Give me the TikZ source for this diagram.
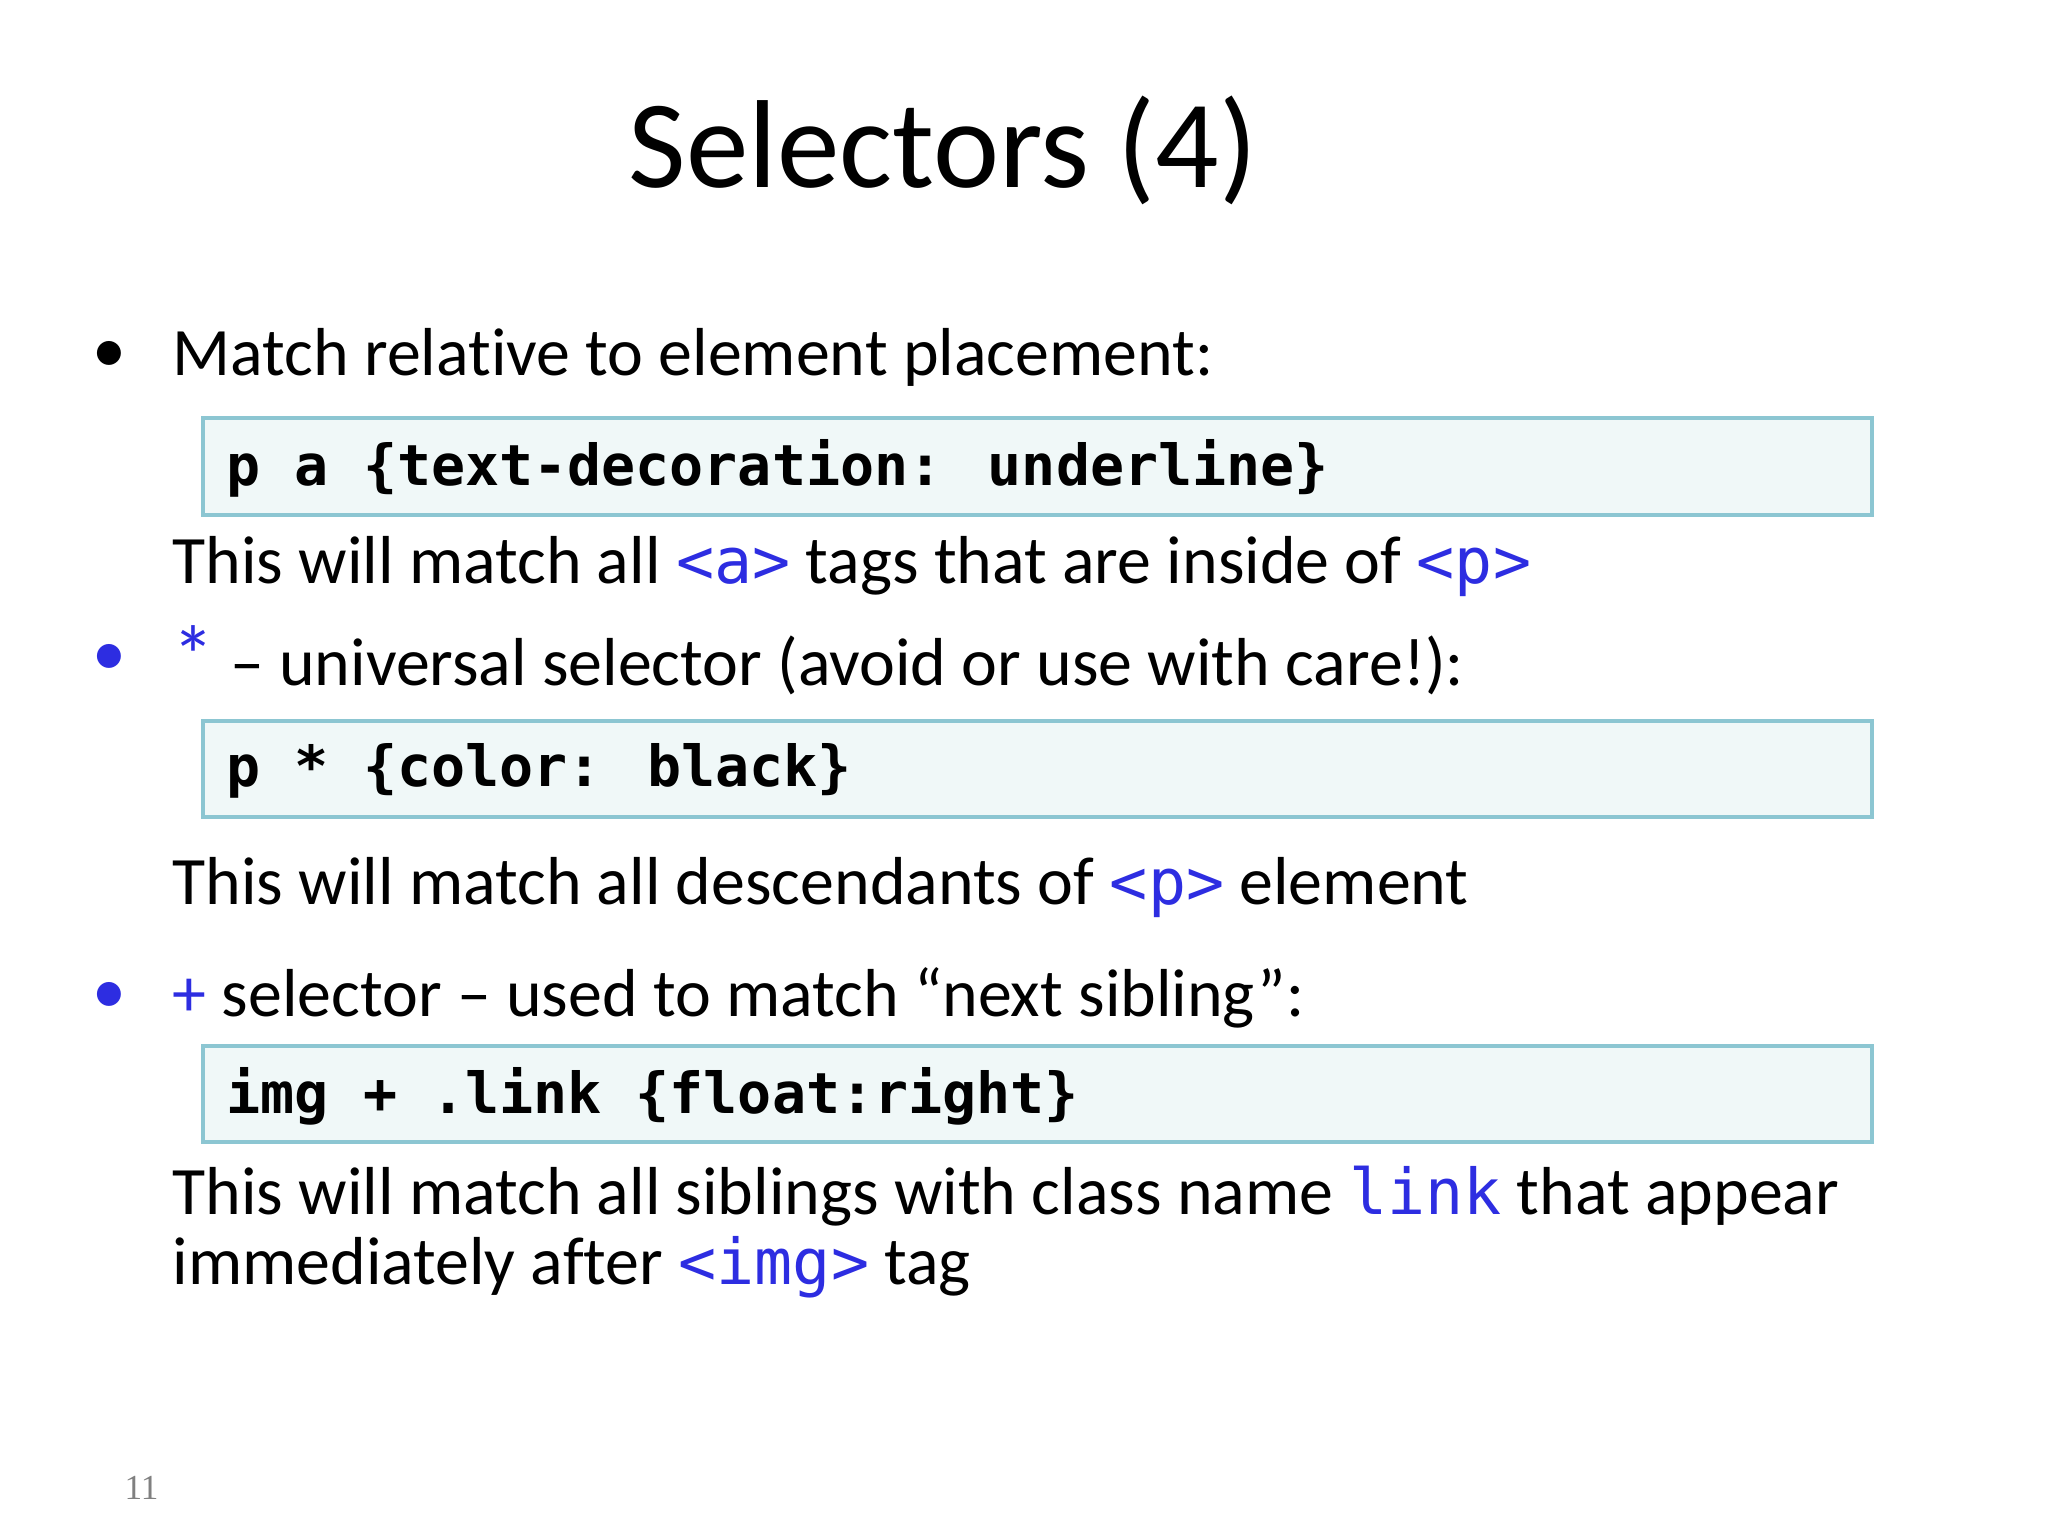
\documentclass[tikz,border=0pt]{standalone}
\usepackage{fontspec}
\setmainfont[Ligatures=NoCommon]{Carlito}
\newfontfamily\codefont{DejaVu Sans Mono}
\newfontfamily\serifnum{Liberation Serif}
\definecolor{bl}{RGB}{45,45,225}
\definecolor{boxfill}{RGB}{240,248,248}
\definecolor{boxline}{RGB}{140,198,210}
\tikzset{
  body/.style={anchor=west,inner sep=0pt,font=\fontsize{19.3}{23}\selectfont},
  code/.style={anchor=west,inner sep=0pt,font=\codefont\bfseries\fontsize{16.1}{20}\selectfont},
  cbox/.style={draw=boxline,fill=boxfill,line width=1.2pt},
}
\newcommand{\bc}[1]{{\color{bl}\codefont\fontsize{18}{20}\selectfont #1}}
\begin{document}
\begin{tikzpicture}[x=0.01cm,y=-0.01cm]
\useasboundingbox (0,0) rectangle (2048,1536);
\node[font=\fontsize{35.6}{42}\selectfont,inner sep=0pt] (title) at (943,150) {Selectors (4)};
\node[body] (b1) at (92,357) {•};
\node[body] (t1) at (172,357) {Match relative to element placement:};
\draw[cbox] (203,418) rectangle (1872,515);
\node[code] (c1) at (226,468) {p a \{text-decoration: underline\}};
\node[body] (t2) at (172,567) {This will match all \bc{<a>} tags that are inside of \bc{<p>}};
\node[body,text=bl] (b2) at (92,660) {•};
\node[body] (t3) at (172,660) {{\color{bl}\fontsize{24}{24}\selectfont *} – universal selector (avoid or use with care!):};
\draw[cbox] (203,721) rectangle (1872,817);
\node[code] (c2) at (226,771) {p * \{color: black\}};
\node[body] (t4) at (172,888) {This will match all descendants of \bc{<p>} element};
\node[body,text=bl] (b3) at (92,998) {•};
\node[body] (t5) at (172,998) {{\color{bl}+} selector – used to match “next sibling”:};
\draw[cbox] (203,1046) rectangle (1872,1142);
\node[code] (c3) at (226,1096) {img + .link \{float:right\}};
\node[body] (t6) at (172,1196) {This will match all siblings with class name \bc{link} that appear};
\node[body] (t7) at (172,1267) {immediately after \bc{<img>} tag};
\node[anchor=west,inner sep=0pt,text=gray,font=\serifnum\fontsize{10}{12}\selectfont] (pg) at (124,1488) {11};
\end{tikzpicture}
\end{document}
